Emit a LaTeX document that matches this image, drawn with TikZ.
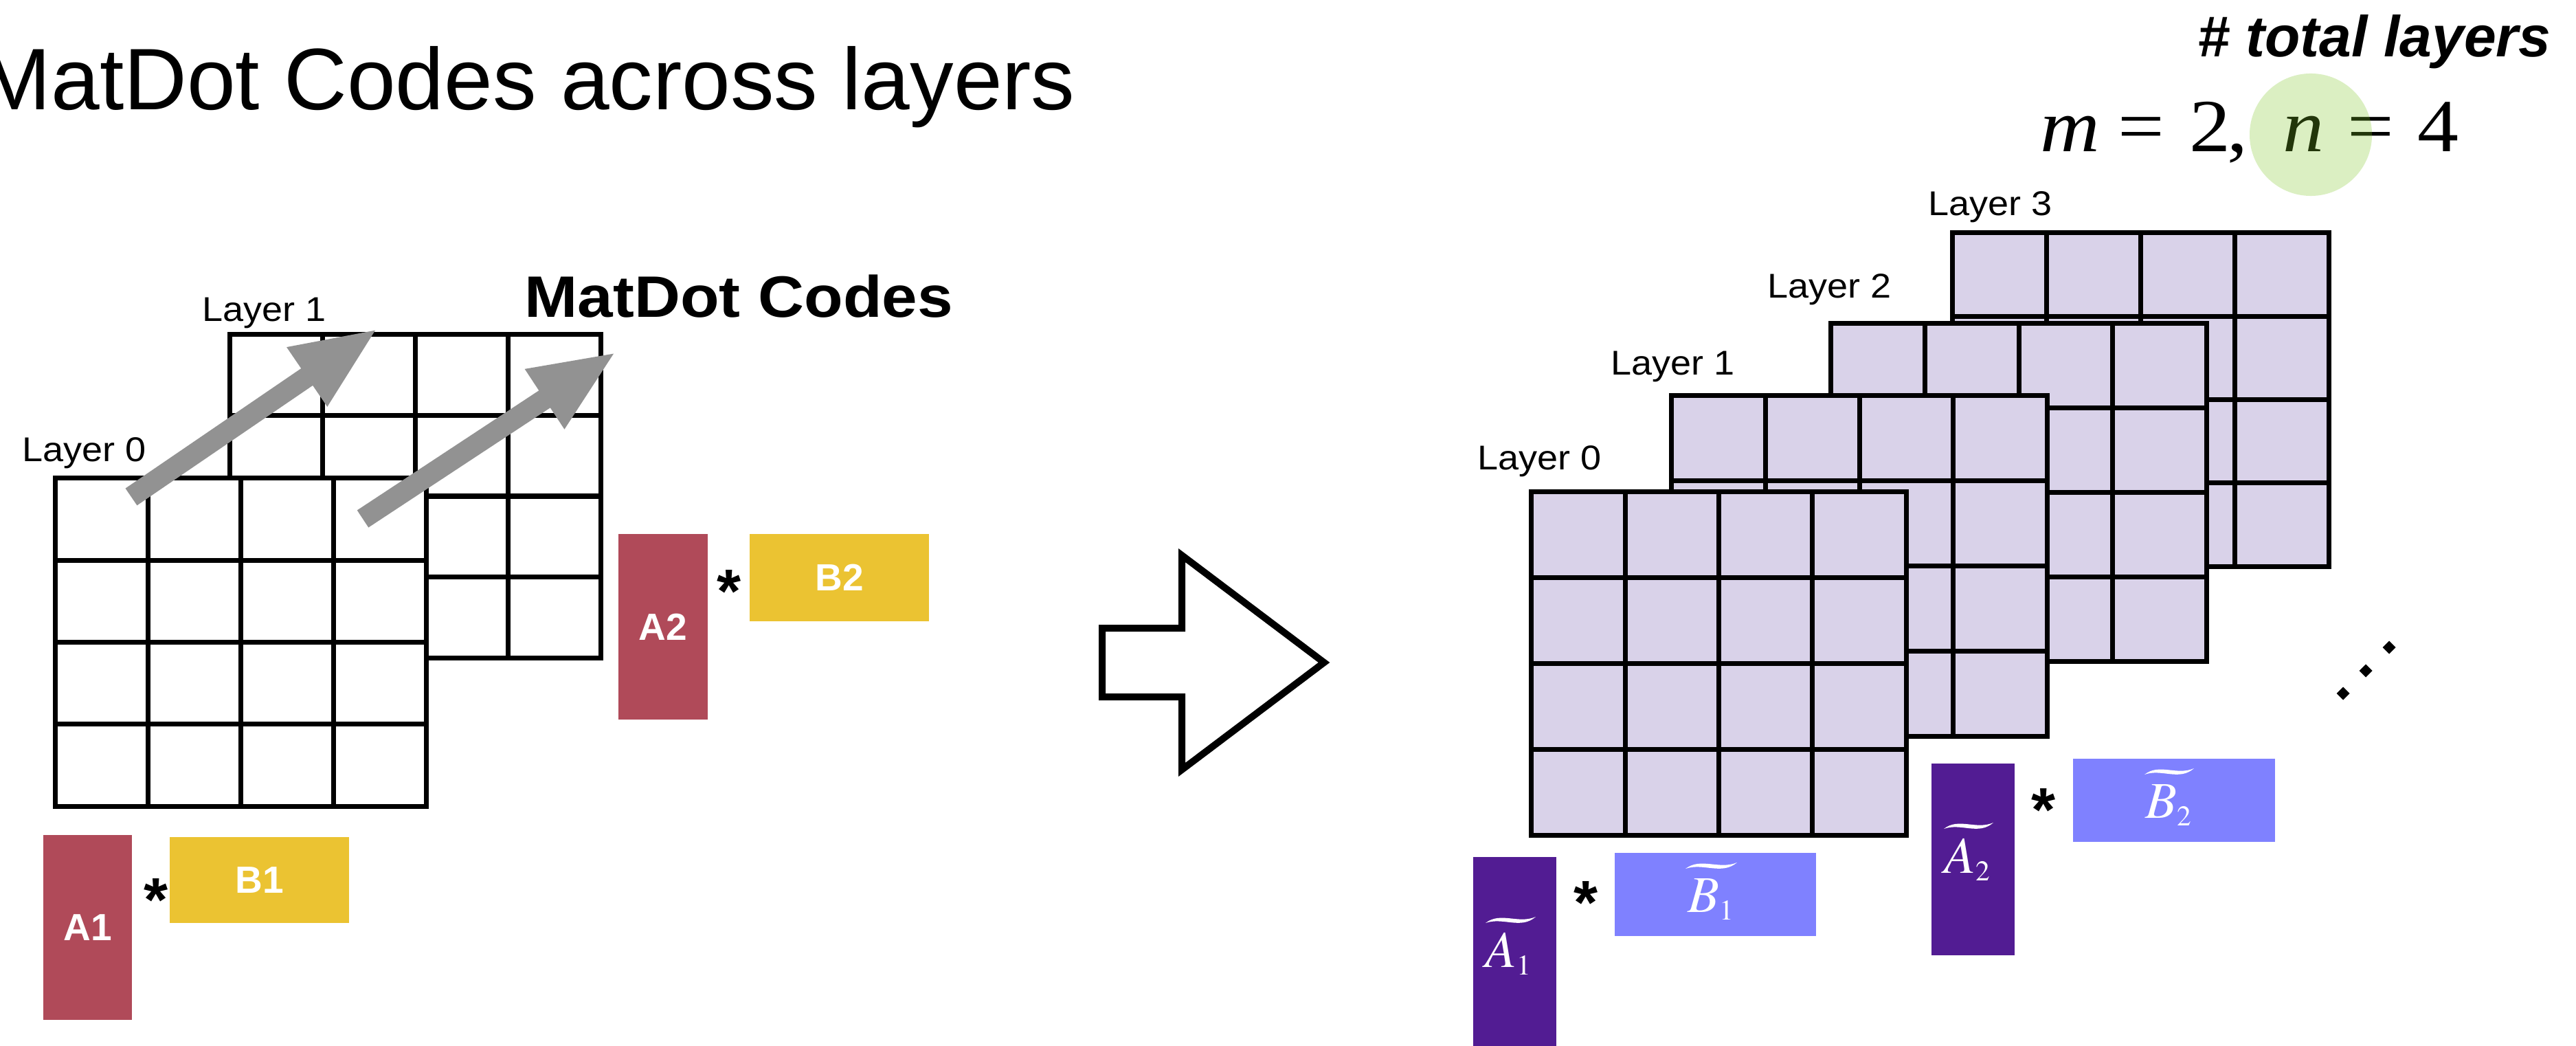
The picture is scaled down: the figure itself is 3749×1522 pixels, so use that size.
\documentclass[tikz,border=0pt]{standalone}
\usepackage{mathptmx}
\usepackage[no-math]{fontspec}
\setmainfont{Liberation Sans}
\newfontfamily\timesfont{Liberation Serif}
\usetikzlibrary{calc,arrows.meta}

\definecolor{lav}{RGB}{217,210,233}
\definecolor{redblk}{RGB}{176,74,89}
\definecolor{yelblk}{RGB}{235,195,50}
\definecolor{purblk}{RGB}{82,28,147}
\definecolor{blublk}{RGB}{127,129,255}
\definecolor{grayarr}{RGB}{146,146,146}
\definecolor{hl}{RGB}{125,196,36}

% font size given in picture units (1 unit = 0.01cm)
\newcommand\pxfont[1]{\fontsize{\fpeval{#1*0.28453}pt}{\fpeval{#1*0.34}pt}\selectfont}
% math sizes for the coded-block labels (small subscripts)
\DeclareMathSizes{21.34}{21.34}{11.8}{9}
\newcommand\blkmath{\fontsize{21.34pt}{25pt}\selectfont}
% wide tilde accent: left x, width, middle y
\newcommand\wtilde[3]{%
  \fill[white] (#1,#3+3) .. controls (#1+0.3*#2,#3-14) and (#1+0.65*#2,#3+5) .. (#1+#2,#3-6)
    .. controls (#1+0.7*#2,#3+13) and (#1+0.35*#2,#3-6) .. cycle;}
% one symbol of the parameter line in a box of fixed advance
\newcommand\tcell[2]{\makebox[#1][l]{\scalebox{1.1}[1]{#2}}}

\begin{document}
\begin{tikzpicture}[x=0.01cm, y=-0.01cm,
  gridlayer/.style={draw=black, line width=0.07cm, inner sep=0pt, outer sep=0pt,
    path picture={
      \foreach \f in {0.25,0.5,0.75}{
        \draw[line width=0.07cm]
          ($(path picture bounding box.north west)!\f!(path picture bounding box.north east)$) --
          ($(path picture bounding box.south west)!\f!(path picture bounding box.south east)$);
        \draw[line width=0.07cm]
          ($(path picture bounding box.north west)!\f!(path picture bounding box.south west)$) --
          ($(path picture bounding box.north east)!\f!(path picture bounding box.south east)$);
      }}},
  lbl/.style={inner sep=0pt, anchor=base west, font=\pxfont{50}},
  blk/.style={inner sep=0pt, outer sep=0pt, text=white, font=\pxfont{55}\bfseries},
  tlab/.style={inner sep=0pt, anchor=base west, text=white, font=\blkmath},
  ast/.style={inner sep=0pt, anchor=base, font=\pxfont{90}\bfseries},
  fatarrow/.style={grayarr, line width=0.30cm, -{Triangle[width=0.95cm, length=1.25cm]}},
]
\useasboundingbox (0,0) rectangle (3749,1522);

% ---------------- title ----------------
\node[inner sep=0pt, anchor=base west] (title) at (-32,160) {\pxfont{127}MatDot Codes across layers};

% ---------------- left: two uncoded layers ----------------
\node[gridlayer, fill=white, minimum width=5.39cm, minimum height=4.70cm] (l1) at (604.5,722) {};
\node[gridlayer, fill=white, minimum width=5.39cm, minimum height=4.77cm] (l0) at (350.5,934.5) {};
\node[lbl] (l1lab) at (294,468) {\scalebox{1.08}[1]{Layer 1}};
\node[lbl] (l0lab) at (32,671) {\scalebox{1.08}[1]{Layer 0}};

\coordinate (g1a) at (191,723);
\coordinate (g1b) at (550,478);
\coordinate (g2a) at (528,755);
\coordinate (g2b) at (897,512);
\draw[fatarrow] (g1a) -- (g1b);
\draw[fatarrow] (g2a) -- (g2b);

\node[inner sep=0pt, anchor=base west] (mdc) at (763,462) {\pxfont{85}\bfseries\scalebox{1.09}[1]{MatDot Codes}};

\node[blk, fill=redblk, minimum width=1.29cm, minimum height=2.69cm] (a1) at (127.5,1349.5) {A1};
\node[blk, fill=yelblk, minimum width=2.61cm, minimum height=1.25cm] (b1) at (377.5,1280.5) {B1};
\node[ast] (s1) at (227,1340) {*};

\node[blk, fill=redblk, minimum width=1.30cm, minimum height=2.70cm] (a2) at (965,912) {A2};
\node[blk, fill=yelblk, minimum width=2.61cm, minimum height=1.27cm] (b2) at (1221.5,840.5) {B2};
\node[ast] (s2) at (1061,891) {*};

% ---------------- hollow transition arrow ----------------
\draw[line width=0.10cm, line join=miter, fill=white]
  (1604,914) -- (1720,914) -- (1720,808) -- (1927,964) -- (1720,1120) -- (1720,1014) -- (1604,1014) -- cycle;

% ---------------- right: coded layers ----------------
\node[gridlayer, fill=lav, minimum width=5.47cm, minimum height=4.85cm] (r3) at (3115.5,581.5) {};
\node[gridlayer, fill=lav, minimum width=5.46cm, minimum height=4.91cm] (r2) at (2938,716.5) {};
\node[gridlayer, fill=lav, minimum width=5.46cm, minimum height=4.95cm] (r1) at (2706,823.5) {};
\node[gridlayer, fill=lav, minimum width=5.45cm, minimum height=4.99cm] (r0) at (2501.5,965.5) {};
\node[lbl] (r3lab) at (2806,314) {\scalebox{1.08}[1]{Layer 3}};
\node[lbl] (r2lab) at (2572,434) {\scalebox{1.08}[1]{Layer 2}};
\node[lbl] (r1lab) at (2344,546) {\scalebox{1.08}[1]{Layer 1}};
\node[lbl] (r0lab) at (2150,683) {\scalebox{1.08}[1]{Layer 0}};

% continuation dots
\foreach \cx/\cy in {3477/942, 3443/976, 3410/1009}
  \fill (\cx-9.5,\cy) -- (\cx,\cy-9.5) -- (\cx+9.5,\cy) -- (\cx,\cy+9.5) -- cycle;

% coded blocks
\node[inner sep=0pt, outer sep=0pt, fill=purblk, minimum width=1.21cm, minimum height=2.75cm] (ta1) at (2204.5,1384.5) {};
\node[inner sep=0pt, outer sep=0pt, fill=blublk, minimum width=2.93cm, minimum height=1.21cm] (tb1) at (2496.5,1301.5) {};
\node[ast] (s3) at (2308,1344) {*};
\node[inner sep=0pt, outer sep=0pt, fill=purblk, minimum width=1.21cm, minimum height=2.79cm] (ta2) at (2871.5,1250.5) {};
\node[inner sep=0pt, outer sep=0pt, fill=blublk, minimum width=2.94cm, minimum height=1.21cm] (tb2) at (3164,1164.5) {};
\node[ast] (s4) at (2974,1209) {*};

\node[tlab] (ta1lab) at (2161,1407) {$A_1$};
\node[tlab] (tb1lab) at (2456,1327) {$B_1$};
\node[tlab] (ta2lab) at (2829,1270) {$A_2$};
\node[tlab] (tb2lab) at (3122,1190) {$B_2$};
\wtilde{2162}{73}{1340}
\wtilde{2453}{75}{1261}
\wtilde{2829}{72}{1203}
\wtilde{3121}{72}{1124}

% ---------------- parameters ----------------
\node[inner sep=0pt, anchor=base east] (tot) at (3713,83) {\pxfont{84}\bfseries\itshape\#~total layers};
\node[inner sep=0pt, anchor=base west] (mn) at (2969,221)
  {\pxfont{109}\timesfont
   \tcell{1.13cm}{\itshape m}\tcell{1.04cm}{=}\tcell{0.55cm}{2}\tcell{0.81cm}{,}%
   \tcell{0.93cm}{\itshape n}\tcell{1.02cm}{=}\tcell{0.55cm}{4}};
\node[circle, fill=hl, fill opacity=0.28, inner sep=0pt, minimum size=1.78cm] (hlc) at (3363,196) {};
\end{tikzpicture}
\end{document}
